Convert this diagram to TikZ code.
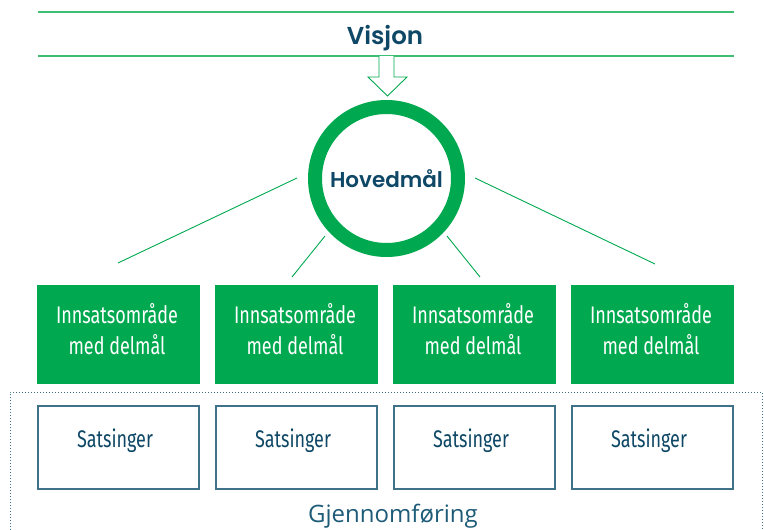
\documentclass[tikz,border=0pt]{standalone}
\usepackage{fontspec}
\setmainfont{Open Sans}
\newfontfamily\condfont[FakeStretch=0.75]{Fira Sans}
\newfontfamily\headfont{Poppins SemiBold}
\definecolor{grn}{HTML}{00A94F}
\definecolor{lgrn}{HTML}{3DBE72}
\definecolor{navy}{HTML}{0E4866}
\definecolor{teal}{HTML}{1D5B78}
\definecolor{boxline}{HTML}{3F7189}
\begin{document}
\begin{tikzpicture}[x=1pt,y=-1pt,
  greenbox/.style={draw=none,fill=grn,minimum width=163pt,minimum height=99pt,inner sep=0pt},
  greentext/.style={text=white,font=\condfont\fontsize{24}{31}\selectfont,align=center,inner sep=0pt},
  satsbox/.style={draw=boxline,line width=1.3pt,fill=white,minimum width=161pt,minimum height=83pt,inner sep=0pt},
  satstext/.style={anchor=base,text=navy,font=\condfont\fontsize{24}{28}\selectfont},
  link/.style={draw=grn,line width=0.9pt},
  hline/.style={draw=lgrn,line width=1.3pt}]
\useasboundingbox (0,0) rectangle (764,530);
% top band
\coordinate (tl1) at (38,12); \coordinate (tr1) at (734,12);
\coordinate (tl2) at (38,56); \coordinate (tr2) at (734,56);
\draw[hline] (tl1) -- (tr1);
\draw[hline] (tl2) -- (tr2);
\node[anchor=base,font=\headfont\fontsize{24.5}{28}\selectfont,text=navy] (visjon) at (385,44) {Visjon};
% hollow arrow
\draw[draw=grn,line width=0.9pt,fill=white] (379,56) -- (379,77) -- (368,77) -- (387.5,96) -- (407,77) -- (394,77) -- (394,56);
% circle
\node[circle,draw=grn,line width=14pt,minimum size=143pt,inner sep=0pt] (hoved) at (386.5,178.5) {};
\node[anchor=base,font=\headfont\fontsize{21.5}{24}\selectfont,text=navy] (hovedtxt) at (386.5,187) {Hovedmål};
% green boxes
\node[greenbox] (g1) at (118.5,334.5) {};
\node[greenbox] (g2) at (296.5,334.5) {};
\node[greenbox] (g3) at (474.5,334.5) {};
\node[greenbox] (g4) at (652.5,334.5) {};
\node[greentext] (gt1) at (117,329) {Innsatsområde\\med delmål};
\node[greentext] (gt2) at (295,329) {Innsatsområde\\med delmål};
\node[greentext] (gt3) at (473,329) {Innsatsområde\\med delmål};
\node[greentext] (gt4) at (651,329) {Innsatsområde\\med delmål};
% connectors
\coordinate (a1) at (297,178); \coordinate (b1) at (118,263);
\coordinate (a2) at (325,236); \coordinate (b2) at (292,277);
\coordinate (a3) at (447,236); \coordinate (b3) at (480,277);
\coordinate (a4) at (475,178); \coordinate (b4) at (655,264);
\draw[link] (a1) -- (b1);
\draw[link] (a2) -- (b2);
\draw[link] (a3) -- (b3);
\draw[link] (a4) -- (b4);
% dotted frame
\coordinate (f1) at (10,545); \coordinate (f2) at (10,392);
\coordinate (f3) at (762,392); \coordinate (f4) at (762,545);
\draw[draw=boxline,line width=1pt,dotted] (f1) -- (f2) -- (f3) -- (f4);
% satsinger
\node[satsbox] (s1) at (118.5,447.5) {};
\node[satsbox] (s2) at (296.5,447.5) {};
\node[satsbox] (s3) at (474.5,447.5) {};
\node[satsbox] (s4) at (652.5,447.5) {};
\node[satstext] (t1) at (115,447) {Satsinger};
\node[satstext] (t2) at (293,447) {Satsinger};
\node[satstext] (t3) at (471,447) {Satsinger};
\node[satstext] (t4) at (649,447) {Satsinger};
\node[anchor=base,font=\fontsize{24}{28}\selectfont,text=teal] (gjen) at (393,522) {Gjennomføring};
\end{tikzpicture}
\end{document}
